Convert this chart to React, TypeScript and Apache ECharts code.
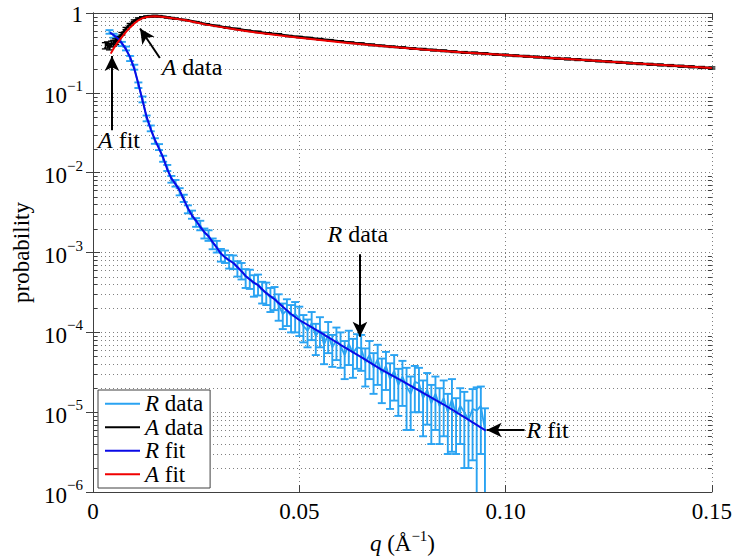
import React, { useEffect, useRef } from 'react';
import * as echarts from 'echarts';

const FONT = 'Liberation Serif';

const C_RDATA = '#2aa3f2';
const C_ADATA = '#000000';
const C_RFIT = '#0a0ae6';
const C_AFIT = '#f00000';
const C_GRID = '#808080';
const C_AXIS = '#404040';

// ---- R data (q, probability, error) ----
const rDataQ = [0.004, 0.005, 0.006, 0.007, 0.008, 0.009, 0.010, 0.011, 0.012, 0.013, 0.014, 0.015, 0.016, 0.017, 0.018, 0.019, 0.020, 0.021, 0.022, 0.023, 0.024, 0.025, 0.026, 0.027, 0.028, 0.029, 0.030, 0.031, 0.032, 0.033, 0.034, 0.035, 0.036, 0.037, 0.038, 0.039, 0.040, 0.041, 0.042, 0.043, 0.044, 0.045, 0.046, 0.047, 0.048, 0.049, 0.050, 0.051, 0.052, 0.053, 0.054, 0.055, 0.056, 0.057, 0.058, 0.059, 0.060, 0.061, 0.062, 0.063, 0.064, 0.065, 0.066, 0.067, 0.068, 0.069, 0.070, 0.071, 0.072, 0.073, 0.074, 0.075, 0.076, 0.077, 0.078, 0.079, 0.080, 0.081, 0.082, 0.083, 0.084, 0.085, 0.086, 0.087, 0.088, 0.089, 0.090, 0.091, 0.092, 0.093, 0.094, 0.095];
const rDataP = [0.58, 0.52, 0.49, 0.41, 0.36, 0.27, 0.21, 0.125, 0.083, 0.048, 0.036, 0.025, 0.021, 0.015, 0.0115, 0.0083, 0.0074, 0.0058, 0.0048, 0.0035, 0.0030, 0.0024, 0.0022, 0.00175, 0.00165, 0.0013, 0.0012, 0.00094, 0.0009, 0.00078, 0.00077, 0.00064, 0.0006, 0.00049, 0.00048, 0.0004, 0.00041, 0.00033, 0.00032, 0.00027, 0.00028, 0.00022, 0.00017, 0.00019, 0.00016, 0.00017, 0.00015, 1.2e-4, 1.05e-4, 1.3e-4, 9e-5, 1.1e-4, 7e-5, 9.5e-5, 6.5e-5, 8e-5, 6.8e-5, 5.2e-5, 7.2e-5, 5.5e-5, 6.5e-5, 6.3e-5, 4.2e-5, 5.2e-5, 3.6e-5, 4.6e-5, 3.0e-5, 3.8e-5, 2.6e-5, 3.3e-5, 2.2e-5, 2.8e-5, 2.1e-5, 1.7e-5, 2.4e-5, 2.3e-5, 1.5e-5, 1.9e-5, 1.3e-5, 1.7e-5, 1.2e-5, 1.5e-5, 1.0e-5, 1.46e-5, 9e-6, 1.2e-5, 1.0e-5, 8e-6, 1.1e-5, 1.05e-5, 1.2e-5, 6e-6];
const rDataErr = [0.03, 0.03, 0.03, 0.025, 0.02, 0.02, 0.015, 0.01, 0.007, 0.004, 0.003, 0.002, 0.0018, 0.0013, 0.001, 0.0008, 0.0007, 0.0006, 0.0005, 0.0004, 0.00035, 0.0003, 0.0003, 0.00025, 0.00025, 0.0002, 0.0002, 0.00017, 0.00016, 0.00015, 0.00015, 0.00014, 0.00014, 0.00013, 0.00013, 0.00012, 0.00012, 0.0001, 0.0001, 0.00009, 0.00009, 0.00008, 0.00006, 0.00007, 0.00006, 0.00007, 0.00006, 4.5e-5, 4e-5, 5e-5, 3.8e-5, 4.5e-5, 3e-5, 4e-5, 2.8e-5, 3.5e-5, 3.2e-5, 2.6e-5, 3.3e-5, 2.8e-5, 3e-5, 3e-5, 2.1e-5, 2.6e-5, 1.9e-5, 2.4e-5, 1.7e-5, 1.9e-5, 1.5e-5, 1.9e-5, 1.3e-5, 1.6e-5, 1.5e-5, 1.1e-5, 1.4e-5, 1.3e-5, 1.0e-5, 1.2e-5, 9e-6, 1.1e-5, 8e-6, 1.0e-5, 7e-6, 1.14e-5, 6e-6, 8e-6, 8e-6, 6e-6, 8.5e-6, 1.0e-5, 9e-6, 5.2e-6];

// ---- A data ----
const aDataQ = [0.003, 0.0035, 0.004, 0.0045, 0.005, 0.0055, 0.006, 0.007, 0.008, 0.009, 0.010, 0.011, 0.012, 0.013, 0.014, 0.015, 0.016, 0.017, 0.018, 0.019, 0.020, 0.0225, 0.025, 0.0275, 0.030, 0.0325, 0.035, 0.0375, 0.040, 0.0425, 0.045, 0.0475, 0.050, 0.0525, 0.055, 0.0575, 0.060, 0.0625, 0.065, 0.0675, 0.070, 0.0725, 0.075, 0.0775, 0.080, 0.0825, 0.085, 0.0875, 0.090, 0.0925, 0.095, 0.0975, 0.100, 0.1025, 0.105, 0.1075, 0.110, 0.1125, 0.115, 0.1175, 0.120, 0.1225, 0.125, 0.1275, 0.130, 0.1325, 0.135, 0.1375, 0.140, 0.1425, 0.145, 0.1475, 0.150];
const aDataP = [0.39, 0.40, 0.38, 0.41, 0.42, 0.44, 0.47, 0.55, 0.64, 0.72, 0.80, 0.85, 0.88, 0.90, 0.91, 0.915, 0.91, 0.895, 0.88, 0.865, 0.85, 0.815, 0.77, 0.725, 0.69, 0.655, 0.63, 0.60, 0.58, 0.555, 0.54, 0.515, 0.50, 0.485, 0.47, 0.455, 0.44, 0.425, 0.413, 0.399, 0.388, 0.378, 0.369, 0.359, 0.352, 0.343, 0.336, 0.328, 0.321, 0.316, 0.31, 0.303, 0.298, 0.292, 0.287, 0.281, 0.276, 0.27, 0.266, 0.261, 0.256, 0.251, 0.246, 0.241, 0.236, 0.232, 0.228, 0.224, 0.22, 0.216, 0.212, 0.208, 0.205];
const aDataErr = [0.035, 0.035, 0.035, 0.035, 0.035, 0.035, 0.035, 0.02, 0.02, 0.02, 0.02, 0.02, 0.02, 0.02, 0.02, 0.02, 0.02, 0.015, 0.015, 0.015, 0.015, 0.012, 0.012, 0.012, 0.012, 0.012, 0.012, 0.012, 0.012, 0.012, 0.012, 0.01, 0.01, 0.01, 0.01, 0.01, 0.01, 0.01, 0.01, 0.01, 0.008, 0.008, 0.008, 0.008, 0.008, 0.008, 0.008, 0.008, 0.008, 0.008, 0.008, 0.007, 0.007, 0.007, 0.007, 0.007, 0.007, 0.007, 0.007, 0.007, 0.006, 0.006, 0.006, 0.006, 0.006, 0.006, 0.006, 0.006, 0.006, 0.006, 0.006, 0.006, 0.006];

// ---- fits ----
const rFitQ = [0.0041, 0.005, 0.006, 0.007, 0.008, 0.009, 0.010, 0.011, 0.012, 0.013, 0.014, 0.015, 0.016, 0.017, 0.018, 0.019, 0.020, 0.021, 0.022, 0.023, 0.024, 0.025, 0.026, 0.027, 0.028, 0.029, 0.030, 0.031, 0.032, 0.033, 0.034, 0.035, 0.036, 0.037, 0.038, 0.039, 0.040, 0.042, 0.044, 0.046, 0.048, 0.050, 0.055, 0.060, 0.065, 0.070, 0.075, 0.080, 0.085, 0.090, 0.0952];
const rFitP = [0.57, 0.53, 0.48, 0.42, 0.35, 0.28, 0.20, 0.13, 0.08, 0.05, 0.035, 0.026, 0.020, 0.0155, 0.011, 0.0085, 0.0072, 0.0060, 0.0046, 0.0036, 0.0029, 0.0025, 0.0021, 0.0018, 0.0016, 0.00135, 0.00115, 0.00097, 0.00087, 0.00080, 0.00074, 0.00066, 0.00058, 0.00051, 0.00046, 0.00042, 0.00039, 0.00031, 0.00026, 0.00021, 0.00017, 0.000143, 0.000101, 0.000070, 0.000049, 0.000034, 0.0000245, 0.0000175, 0.0000125, 0.0000087, 0.0000059];
const aFitQ = [0.0043, 0.005, 0.006, 0.007, 0.008, 0.009, 0.010, 0.011, 0.012, 0.013, 0.014, 0.015, 0.016, 0.018, 0.020, 0.0225, 0.025, 0.0275, 0.030, 0.035, 0.040, 0.045, 0.050, 0.060, 0.070, 0.080, 0.090, 0.100, 0.110, 0.120, 0.130, 0.140, 0.150];
const aFitP = [0.31, 0.36, 0.43, 0.50, 0.58, 0.66, 0.74, 0.81, 0.86, 0.89, 0.905, 0.91, 0.905, 0.88, 0.85, 0.81, 0.76, 0.715, 0.68, 0.615, 0.565, 0.525, 0.49, 0.43, 0.385, 0.35, 0.32, 0.298, 0.276, 0.256, 0.236, 0.22, 0.205];

// ---- axes ----
const xTickLabels: Record<string, string> = { '0': '0', '0.05': '0.05', '0.1': '0.10', '0.15': '0.15' };
const legendNames = ['R data', 'A data', 'R fit', 'A fit'];

// ---- annotations (data coordinates) ----
const annotationLabels = [
  { text: 'A data', q: 0.024, p: 0.21, pos: 'inside' },
  { text: 'A fit', q: 0.0063, p: 0.0256, pos: 'inside' },
  { text: 'R data', q: 0.0642, p: 0.0017, pos: 'inside' },
  { text: 'R fit', q: 0.1046, p: 6.0e-6, pos: 'right' },
];
const annotationArrows = [
  { from: [0.0162, 0.273], to: [0.0114, 0.64] },
  { from: [0.0046, 0.034], to: [0.0046, 0.289] },
  { from: [0.0647, 0.00095], to: [0.0647, 0.000088] },
  { from: [0.1046, 6.0e-6], to: [0.0954, 6.0e-6] },
];

const minorGridValues: number[] = [];
for (let k = -6; k < 0; k++) for (let m = 2; m <= 9; m++) minorGridValues.push(m * Math.pow(10, k));

const italicFirst = (t: string) => '{i|' + t.charAt(0) + '}{n|' + t.slice(1) + '}';
const textRich = (size: number) => ({
  i: { fontFamily: FONT, fontStyle: 'italic', fontSize: size, color: '#000' },
  n: { fontFamily: FONT, fontSize: size, color: '#000' },
});

function errorBars(id: string, q: number[], p: number[], e: number[], color: string, z: number, cap: number, lw: number) {
  return {
    type: 'custom',
    id,
    silent: true,
    z,
    data: q.map((x, i) => [x, p[i], e[i]]),
    encode: { x: 0, y: 1 },
    renderItem: (params: any, api: any) => {
      const cs = params.coordSys;
      const x = api.value(0);
      const v = api.value(1);
      const err = api.value(2);
      const top = api.coord([x, v + err]);
      const lowVal = v - err;
      const bottomEdge = cs.y + cs.height;
      const yb = lowVal > 0 ? api.coord([x, lowVal])[1] : bottomEdge + 100;
      const cx = top[0];
      const yt = top[1];
      const st = { stroke: color, lineWidth: lw };
      const children: any[] = [
        { type: 'line', shape: { x1: cx, y1: yt, x2: cx, y2: Math.min(yb, bottomEdge) }, style: st },
        { type: 'line', shape: { x1: cx - cap, y1: yt, x2: cx + cap, y2: yt }, style: st },
      ];
      if (yb <= bottomEdge) children.push({ type: 'line', shape: { x1: cx - cap, y1: yb, x2: cx + cap, y2: yb }, style: st });
      return { type: 'group', children };
    },
  };
}

function decadeLabel(v: number): string {
  const k = Math.round(Math.log10(v));
  if (k === 0) return '{c|1}';
  return '{b|10}{s|\u2212' + -k + '}';
}

export default function App() {
  const ref = useRef<HTMLDivElement>(null);
  useEffect(() => {
    if (!ref.current) return;
    const chart = echarts.init(ref.current, null, { renderer: 'svg' });
    const axisCommon = {
      axisLine: { show: true, lineStyle: { color: C_AXIS, width: 1 } },
      axisTick: { show: true, inside: true, length: 7, lineStyle: { color: C_AXIS } },
    };
    const option: any = {
      animation: false,
      backgroundColor: '#fff',
      textStyle: { fontFamily: FONT },
      grid: { left: 93, right: 22.5, top: 9, bottom: 66, containLabel: false },
      xAxis: [
        {
          type: 'value', min: 0, max: 0.15, interval: 0.05, position: 'bottom',
          ...axisCommon,
          axisLabel: {
            fontFamily: FONT, fontSize: 23, color: '#000', margin: 8,
            formatter: (v: number) => xTickLabels[String(+v.toFixed(2))] ?? String(v),
          },
          splitLine: { show: true, lineStyle: { color: C_GRID, type: [1, 3], width: 1 } },
          name: '{i|q}{n| (Å}{s|\u22121}{n|)}',
          nameLocation: 'middle',
          nameGap: 33,
          nameTextStyle: {
            fontFamily: FONT,
            rich: {
              i: { fontFamily: FONT, fontStyle: 'italic', fontSize: 23, color: '#000', lineHeight: 23, verticalAlign: 'bottom' },
              n: { fontFamily: FONT, fontSize: 23, color: '#000', lineHeight: 23, verticalAlign: 'bottom' },
              s: { fontFamily: FONT, fontSize: 15, color: '#000', lineHeight: 27, verticalAlign: 'top', padding: [0, 0, 3, 0] },
            },
          },
        },
        {
          type: 'value', min: 0, max: 0.15, interval: 0.05, position: 'top',
          ...axisCommon,
          axisLabel: { show: false },
          splitLine: { show: false },
        },
      ],
      yAxis: [
        {
          type: 'log', logBase: 10, min: 1e-6, max: 1, position: 'left',
          ...axisCommon,
          axisLabel: {
            formatter: decadeLabel, margin: 10, fontFamily: FONT,
            rich: {
              b: { fontFamily: FONT, fontSize: 23, color: '#000', lineHeight: 23, verticalAlign: 'bottom' },
              s: { fontFamily: FONT, fontSize: 15, color: '#000', lineHeight: 29, verticalAlign: 'top', padding: [0, 0, 3, 0] },
              c: { fontFamily: FONT, fontSize: 23, color: '#000', lineHeight: 23, padding: [3, 0, 0, 0] },
            },
          },
          splitLine: { show: true, lineStyle: { color: C_GRID, type: [1, 3], width: 1 } },
          name: 'probability',
          nameLocation: 'middle',
          nameRotate: 90,
          nameGap: 58,
          nameTextStyle: { fontFamily: FONT, fontSize: 23, color: '#000' },
        },
        {
          type: 'log', logBase: 10, min: 1e-6, max: 1, position: 'right',
          ...axisCommon,
          axisLabel: { show: false },
          splitLine: { show: false },
        },
      ],
      legend: {
        data: legendNames,
        orient: 'vertical',
        left: 98,
        top: 390,
        padding: [2, 7, 2, 7],
        itemGap: 0,
        icon: 'rect',
        itemWidth: 35,
        itemHeight: 2,
        borderColor: C_AXIS,
        borderWidth: 1,
        backgroundColor: '#fff',
        formatter: (name: string) => italicFirst(name),
        textStyle: { fontFamily: FONT, fontSize: 23, lineHeight: 23.5, color: '#000', rich: textRich(23) },
      },
      series: [
        {
          type: 'custom', id: 'minorGrid', silent: true, z: 1,
          data: minorGridValues.map((v) => [0, v]),
          encode: { x: 0, y: 1 },
          renderItem: (params: any, api: any) => {
            const cs = params.coordSys;
            const y = Math.round(api.coord([0, api.value(1)])[1]) + 0.5;
            return {
              type: 'group',
              children: [
                { type: 'line', shape: { x1: cs.x, y1: y, x2: cs.x + cs.width, y2: y }, style: { stroke: C_GRID, lineWidth: 1, lineDash: [1, 3] } },
                { type: 'line', shape: { x1: cs.x, y1: y, x2: cs.x + 4, y2: y }, style: { stroke: C_AXIS, lineWidth: 1 } },
                { type: 'line', shape: { x1: cs.x + cs.width - 4, y1: y, x2: cs.x + cs.width, y2: y }, style: { stroke: C_AXIS, lineWidth: 1 } },
              ],
            };
          },
        },
        errorBars('rDataErr', rDataQ, rDataP, rDataErr, C_RDATA, 2, 4, 1.9),
        {
          type: 'line', name: 'R data', z: 2, silent: true, symbol: 'none', showSymbol: false,
          data: rDataQ.map((x, i) => [x, rDataP[i]]),
          lineStyle: { color: C_RDATA, width: 1.8 }, itemStyle: { color: C_RDATA },
        },
        errorBars('aDataErr', aDataQ, aDataP, aDataErr, C_ADATA, 3, 3.5, 1.3),
        {
          type: 'line', name: 'A data', z: 3, silent: true, symbol: 'none', showSymbol: false,
          data: aDataQ.map((x, i) => [x, aDataP[i]]),
          lineStyle: { color: C_ADATA, width: 2.5 }, itemStyle: { color: C_ADATA },
        },
        {
          type: 'line', name: 'R fit', z: 4, silent: true, symbol: 'none', showSymbol: false,
          data: rFitQ.map((x, i) => [x, rFitP[i]]),
          lineStyle: { color: C_RFIT, width: 2 }, itemStyle: { color: C_RFIT },
        },
        {
          type: 'line', name: 'A fit', z: 5, silent: true, symbol: 'none', showSymbol: false,
          data: aFitQ.map((x, i) => [x, aFitP[i]]),
          lineStyle: { color: C_AFIT, width: 2 }, itemStyle: { color: C_AFIT },
          markLine: {
            silent: true,
            symbol: ['none', 'arrow'],
            symbolSize: [11, 15],
            label: { show: false },
            lineStyle: { color: '#000', width: 2, type: 'solid' },
            data: annotationArrows.map((a) => [{ coord: a.from }, { coord: a.to }]),
          },
          markPoint: {
            silent: true,
            symbol: 'circle',
            symbolSize: 0,
            itemStyle: { color: 'rgba(0,0,0,0)' },
            data: annotationLabels.map((a) => ({
              coord: [a.q, a.p],
              label: {
                show: true,
                position: a.pos,
                distance: 2,
                formatter: italicFirst(a.text),
                rich: textRich(24),
              },
            })),
          },
        },
      ],
    };
    chart.setOption(option);
    return () => chart.dispose();
  }, []);
  return <div ref={ref} style={{ position: 'fixed', left: 0, top: 0, width: 735, height: 560, background: '#fff' }} />;
}
